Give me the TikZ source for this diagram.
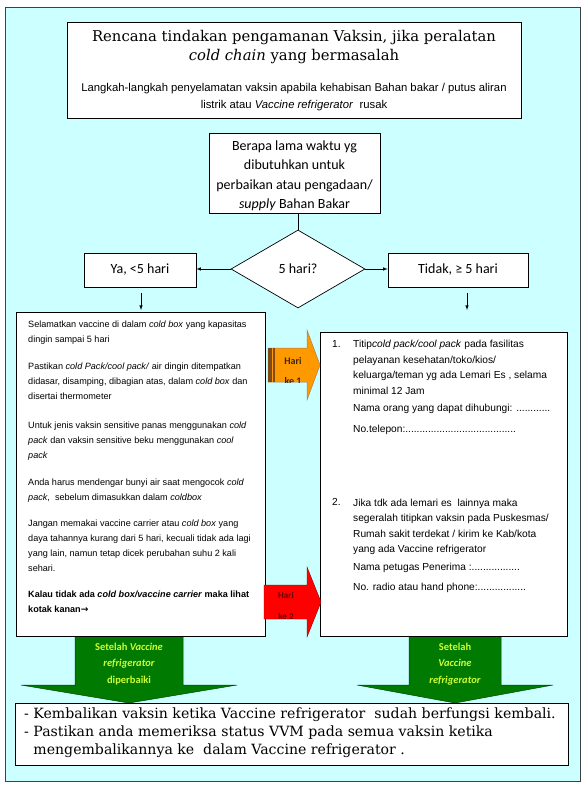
\documentclass[tikz,border=0pt]{standalone}
\usepackage{fontspec}
\setmainfont{DejaVu Serif}
\newfontfamily\arialf{Liberation Sans}
\newfontfamily\dejaf{DejaVu Sans}
\newfontfamily\calf{Carlito}[BoldFont=Carlito Bold,ItalicFont=Carlito Italic,BoldItalicFont=Carlito Bold Italic]
\usetikzlibrary{arrows}
\usetikzlibrary{positioning}
\usetikzlibrary{shapes.geometric}
\definecolor{latar}{HTML}{CCFFFF}
\definecolor{oranye}{HTML}{FF9900}
\definecolor{coklat}{HTML}{7F4A1A}
\definecolor{hijau}{HTML}{007A00}
\definecolor{kuning}{HTML}{CCFF33}
\definecolor{merah}{HTML}{FF0000}
\definecolor{merahtua}{HTML}{6A0000}

\begin{document}
\begin{tikzpicture}[x=1pt,y=-1pt,
  kotak/.style={draw,fill=white,line width=0.7pt,inner sep=0pt},
  teks/.style={inner sep=0pt,align=left,anchor=north west},
  panah/.style={-latex,line width=0.6pt},
  hari/.style={inner sep=0pt,align=center,anchor=north,font=\calf\bfseries\fontsize{10}{20}\selectfont},
  setelah/.style={inner sep=0pt,align=center,text=kuning,font=\calf\bfseries\fontsize{10.5}{16.5}\selectfont}]
  \useasboundingbox (0,0) rectangle (586,789);
  \draw[fill=latar,line width=0.9pt,draw=black!75] (5,7) rectangle (580,781);
  \node[kotak,minimum width=454pt,minimum height=96pt] (judul) at (294,70) {};
  \node[align=center,inner sep=0pt,font=\fontsize{14.8}{19}\selectfont] (judul1) at (294,47.5) {Rencana tindakan pengamanan Vaksin, jika peralatan\\\textit{cold chain} yang bermasalah};
  \node[align=center,inner sep=0pt,font=\arialf\fontsize{11.3}{17}\selectfont] (judul2) at (294,97) {Langkah-langkah penyelamatan vaksin apabila kehabisan Bahan bakar / putus aliran\\listrik atau \textit{Vaccine refrigerator}\ \ rusak};
  \node[kotak,minimum width=171pt,minimum height=80pt] (tanya) at (294.5,173) {};
  \node[align=center,inner sep=0pt,font=\calf\fontsize{14}{19.5}\selectfont] (tanya1) at (294.5,176) {Berapa lama waktu yg\\dibutuhkan untuk\\perbaikan atau pengadaan/\\\textit{supply} Bahan Bakar};
  \node[kotak,diamond,minimum width=134pt,minimum height=78pt,font=\calf\fontsize{14}{16}\selectfont] (dia) at (298,269) {5 hari?};
  \node[kotak,minimum width=112pt,minimum height=34pt,font=\calf\fontsize{14}{16}\selectfont] (ya) at (140,270) {Ya, <5 hari};
  \node[kotak,minimum width=140pt,minimum height=34pt,font=\calf\fontsize{14}{16}\selectfont] (tidak) at (458,270) {Tidak, ≥ 5 hari};
  \draw[line width=0.7pt] (tanya.south -| dia.north) -- (dia.north);
  \draw[panah] (dia.west) -- (dia.west -| ya.east);
  \draw[panah] (dia.east) -- (dia.east -| tidak.west);
  \coordinate (ya1) at (141,293);
  \coordinate (ya2) at (141,310);
  \coordinate (td1) at (467,293);
  \coordinate (td2) at (467,310);
  \draw[panah] (ya1) -- (ya2);
  \draw[panah] (td1) -- (td2);
  % panah hijau
  \fill[hijau,draw=hijau!60!black,line width=0.5pt] (75,636) -- (183,636) -- (183,685) -- (237,685) -- (129,703) -- (21,685) -- (75,685) -- cycle;
  \fill[hijau,draw=hijau!60!black,line width=0.5pt] (409,636) -- (501,636) -- (501,685) -- (553,685) -- (455,703) -- (357,685) -- (409,685) -- cycle;
  \node[setelah] (stl1) at (129,664) {Setelah \textit{Vaccine}\\\textit{refrigerator}\\diperbaiki};
  \node[setelah] (stl2) at (455,664) {Setelah\\\textit{Vaccine}\\\textit{refrigerator}};
  \node[kotak,minimum width=249pt,minimum height=324pt] (kiri) at (140.5,474) {};
  \node[kotak,minimum width=247pt,minimum height=304pt] (kanan) at (443.5,484) {};
  \node[teks,font=\arialf\fontsize{9.1}{15}\selectfont] (isi1) at (28,320.5) {Selamatkan vaccine di dalam \textit{cold box} yang kapasitas\\
    dingin sampai 5 hari\\[12pt]
    Pastikan \textit{cold Pack/cool pack/} air dingin ditempatkan\\
    didasar, disamping, dibagian atas, dalam \textit{cold box} dan\\
    disertai thermometer\\[14pt]
    Untuk jenis vaksin sensitive panas menggunakan \textit{cold}\\
    \textit{pack} dan vaksin sensitive beku menggunakan \textit{cool}\\
    \textit{pack}\\[12pt]
    Anda harus mendengar bunyi air saat mengocok \textit{cold}\\
    \textit{pack},\ \ sebelum dimasukkan dalam \textit{coldbox}\\[11pt]
    Jangan memakai vaccine carrier atau \textit{cold box} yang\\
    daya tahannya kurang dari 5 hari, kecuali tidak ada lagi\\
    yang lain, namun tetap dicek perubahan suhu 2 kali\\
    sehari.\\[11pt]
    \textbf{Kalau tidak ada \textit{cold box/vaccine carrier} maka lihat}\\
    \textbf{kotak kanan{\dejaf →}}};
  \node[teks,font=\arialf\fontsize{10.2}{15.5}\selectfont] (no1) at (332,340) {1.};
  \node[teks,font=\arialf\fontsize{10.2}{15.5}\selectfont] (isi2) at (353,340) {Titip\textit{cold pack/cool pack} pada fasilitas\\
    pelayanan kesehatan/toko/kios/\\
    keluarga/teman yg ada Lemari Es , selama\\
    minimal 12 Jam\\[2pt]
    Nama orang yang dapat dihubungi: ............\\[5pt]
    No.telepon:.......................................};
  \node[teks,font=\arialf\fontsize{10.2}{15.5}\selectfont] (no2) at (332,498.5) {2.};
  \node[teks,font=\arialf\fontsize{10.2}{15.5}\selectfont] (isi3) at (353,498.5) {Jika tdk ada lemari es\ \ lainnya maka\\
    segeralah titipkan vaksin pada Puskesmas/\\
    Rumah sakit terdekat / kirim ke Kab/kota\\
    yang ada Vaccine refrigerator\\[2pt]
    Nama petugas Penerima :.................\\[5pt]
    No. radio atau hand phone:.................};
  % panah hari
  \fill[oranye,draw=coklat!70,line width=0.5pt] (268,348) -- (307,348) -- (307,330) -- (320,365) -- (307,400) -- (307,382) -- (268,382) -- cycle;
  \fill[coklat] (268,348) rectangle (271.5,382);
  \fill[coklat] (272.5,348) rectangle (275,382);
  \begin{scope}
    \clip (276,348) rectangle (307,382);
    \node[hari,text=coklat!50!black] (hari1) at (293,357) {Hari\\ke 1};
  \end{scope}
  \fill[merah,draw=merah!60!black,line width=0.4pt] (264,585) -- (307,585) -- (307,567) -- (321,602) -- (307,637) -- (307,619) -- (264,619) -- cycle;
  \begin{scope}
    \clip (264,585) rectangle (307,619);
    \node[hari,text=merahtua,font=\calf\bfseries\fontsize{9}{21}\selectfont] (hari2) at (286,592) {Hari\\ke 2};
  \end{scope}
  \node[kotak,minimum width=553pt,minimum height=62pt] (bawah) at (291.5,734) {};
  \node[teks,font=\fontsize{14.1}{17.8}\selectfont] (isi4) at (24,708) {- Kembalikan vaksin ketika Vaccine refrigerator\ \ sudah berfungsi kembali.\\
    - Pastikan anda memeriksa status VVM pada semua vaksin ketika\\
    \phantom{- }mengembalikannya ke\ \ dalam Vaccine refrigerator .};
\end{tikzpicture}
\end{document}
